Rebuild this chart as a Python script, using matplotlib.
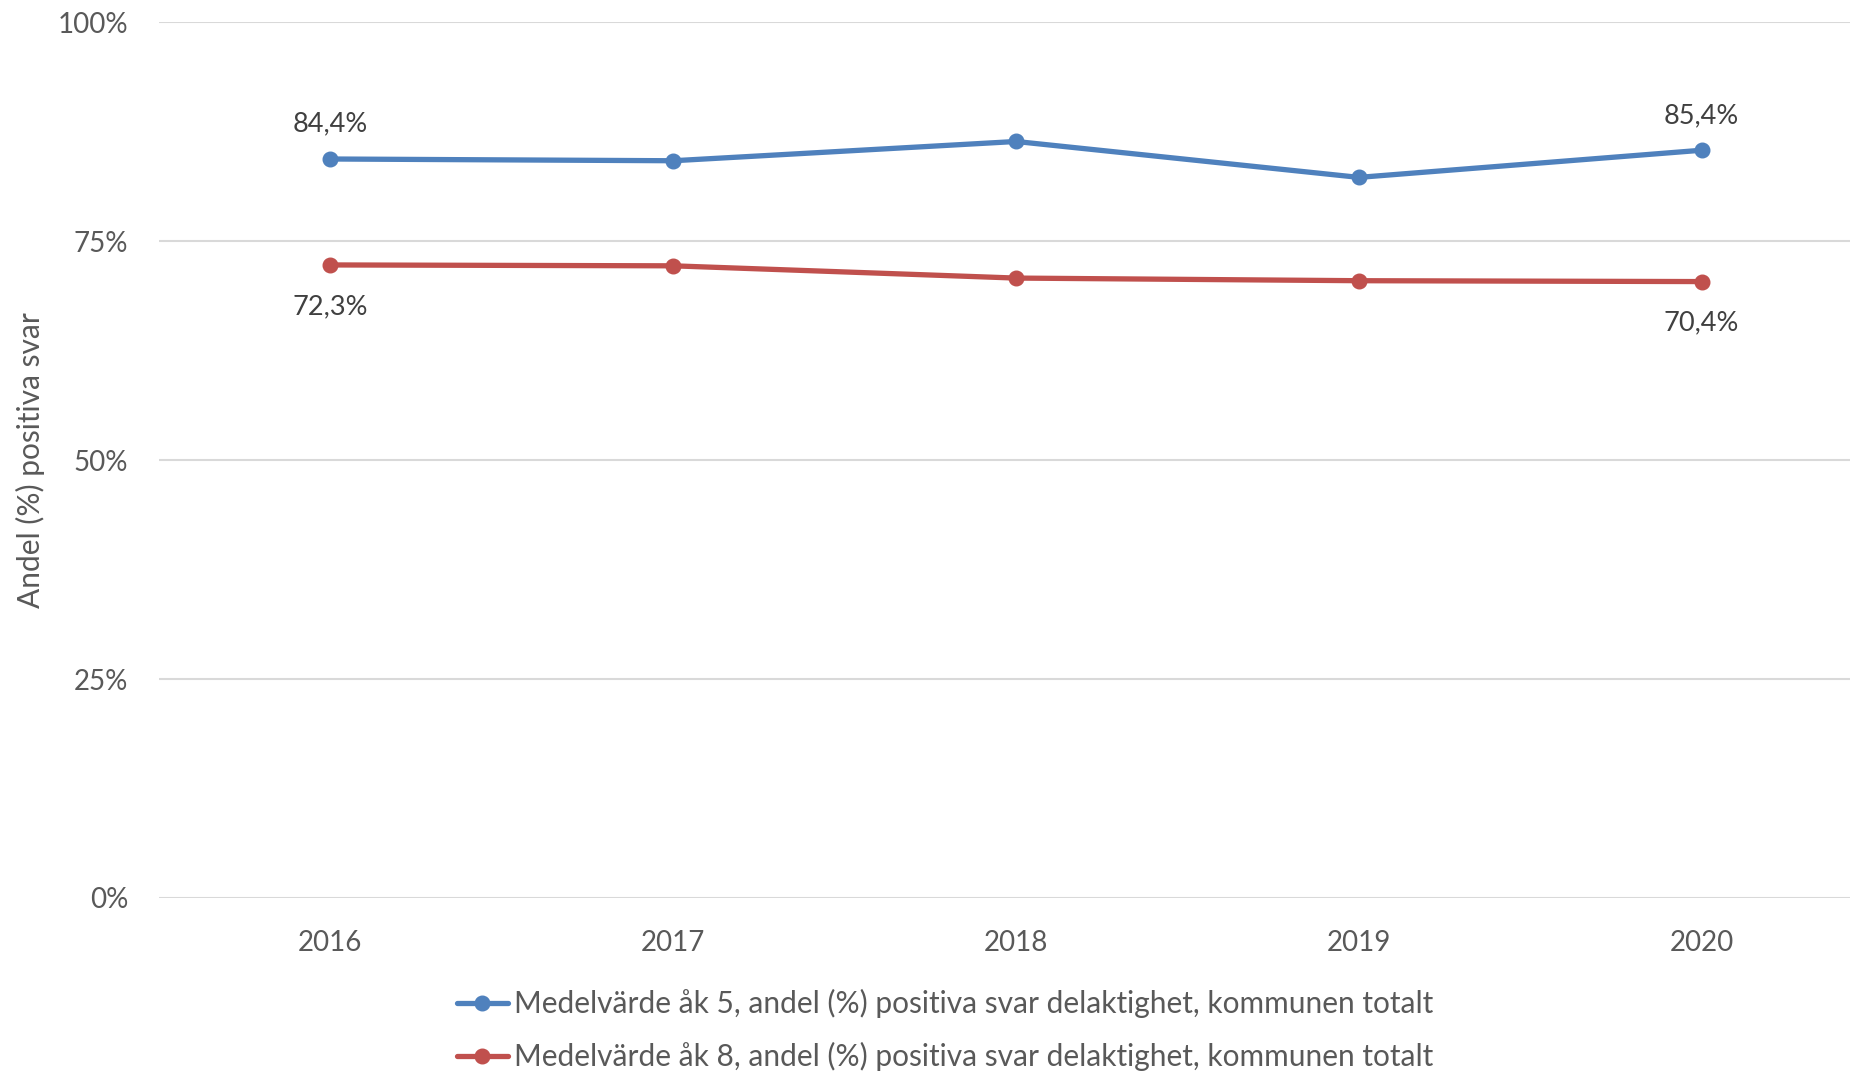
import numpy as np
import matplotlib.pyplot as plt
from matplotlib.ticker import FuncFormatter

plt.rcParams['font.family'] = ['Lato', 'DejaVu Sans']

# data
years = ['2016', '2017', '2018', '2019', '2020']
ak5 = [84.4, 84.2, 86.4, 82.3, 85.4]
ak8 = [72.3, 72.2, 70.8, 70.5, 70.4]
label_ak5 = 'Medelvärde åk 5, andel (%) positiva svar delaktighet, kommunen totalt'
label_ak8 = 'Medelvärde åk 8, andel (%) positiva svar delaktighet, kommunen totalt'

blue = '#4F81BD'
red = '#C0504D'
txt = '#595959'

fig = plt.figure(figsize=(18.5, 10.71), dpi=100)
ax = fig.add_axes([159 / 1850, 173 / 1071, 1714 / 1850, 875.6 / 1071])

x = np.arange(len(years))
ax.plot(x, ak5, color=blue, lw=3.8, marker='o', ms=10.5, label=label_ak5,
        solid_capstyle='round', zorder=3)
ax.plot(x, ak8, color=red, lw=3.8, marker='o', ms=10.5, label=label_ak8,
        solid_capstyle='round', zorder=3)

# data labels, first and last point only
for i in [0, len(years) - 1]:
    ax.annotate(f'{ak5[i]:.1f}%'.replace('.', ','), (x[i], ak5[i]), xytext=(0, 25),
                textcoords='offset points', ha='center', va='center',
                fontsize=19.5, color='#404040')
    ax.annotate(f'{ak8[i]:.1f}%'.replace('.', ','), (x[i], ak8[i]), xytext=(0, -30),
                textcoords='offset points', ha='center', va='center',
                fontsize=19.5, color='#404040')

ax.set_xlim(-0.5, len(years) - 0.5)
ax.set_ylim(0, 100)
ax.set_xticks(x)
ax.set_xticklabels(years)
ax.set_yticks([0, 25, 50, 75, 100])
ax.yaxis.set_major_formatter(FuncFormatter(lambda v, p: f'{v:.0f}%'))
ax.grid(axis='y', color='#D9D9D9', lw=1.5)
ax.set_axisbelow(True)
for s in ax.spines.values():
    s.set_visible(False)
ax.tick_params(length=0, labelsize=20, colors=txt)
ax.tick_params(axis='y', pad=22)
ax.tick_params(axis='x', pad=23)
ax.set_ylabel('Andel (%) positiva svar', fontsize=21.5, color=txt, labelpad=9)

fig.legend(loc='upper left', bbox_to_anchor=(457 / 1850, 1 - 989 / 1071),
           frameon=False, fontsize=21.5, labelcolor=txt, handlelength=1.7,
           handletextpad=0.2, labelspacing=0.81, borderaxespad=0, borderpad=0)

plt.savefig('out.png', dpi=100)
